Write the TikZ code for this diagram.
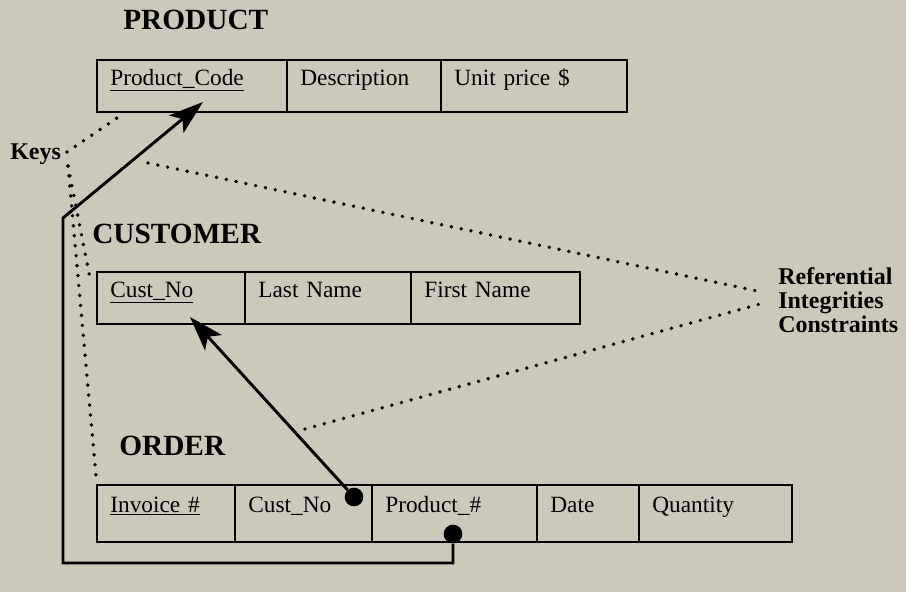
\documentclass[tikz,border=0pt]{standalone}
\usepackage{fontspec}
\setmainfont{Liberation Serif}
\usetikzlibrary{positioning,arrows.meta}
\definecolor{paper}{RGB}{204,201,187}
\tikzset{
    table name/.style={font=\fontsize{22}{26}\selectfont\bfseries, anchor=base west, inner sep=0pt},
    table cell/.style={
            draw, line width=2pt, inner xsep=10pt, inner ysep=0pt, outer sep=0pt,
            text width=#1, align=left,
            text height=18.75pt, text depth=20.25pt,
            font=\fontsize{17.5}{20}\selectfont
        },
    tall row/.style={text height=20.25pt, text depth=22.5pt},
    key dot/.style={circle, fill, inner sep=0pt, minimum size=14pt},
    link/.style={line width=2.2pt, -{Stealth[length=26pt,width=17pt,inset=6pt]}},
    dots/.style={line width=2.9pt, line cap=round, dash pattern=on 0pt off 7.5pt},
    note/.style={font=\fontsize{18}{18}\selectfont\bfseries, inner sep=0pt},
}
\begin{document}
\begin{tikzpicture}[x=0.75pt, y=-0.75pt]
    %paper
    \fill[paper] (0,0) rectangle (906,592);
    \useasboundingbox (0,0) rectangle (906,592);
    %table names
    \node[table name] (product) at (123,30) {PRODUCT};
    \node[table name] (customer) at (92,243) {CUSTOMER};
    \node[table name] (order) at (119,455) {ORDER};
    %product table
    \node[table cell=122.5pt, anchor=north west] (pcode) at (97,60) {\underline{Product\_Code}};
    \node[table cell=95.5pt, right=0pt of pcode] (pdesc) {Description};
    \node[table cell=119.5pt, right=0pt of pdesc] (pprice) {Unit price \$};
    %customer table
    \node[table cell=91pt, anchor=north west] (cno) at (97,272) {\underline{Cust\_No}};
    \node[table cell=104.5pt, right=0pt of cno] (clast) {Last Name};
    \node[table cell=106.75pt, right=0pt of clast] (cfirst) {First Name};
    %order table
    \node[table cell=83.5pt, tall row, anchor=north west] (oinv) at (97,485) {\underline{Invoice \#}};
    \node[table cell=82.75pt, tall row, right=0pt of oinv] (ocust) {Cust\_No};
    \node[table cell=103.75pt, tall row, right=0pt of ocust] (oprod) {Product\_\#};
    \node[table cell=56.5pt, tall row, right=0pt of oprod] (odate) {Date};
    \node[table cell=94.75pt, tall row, right=0pt of odate] (oqty) {Quantity};
    %foreign keys
    \node[key dot] (cdot) at (354,497) {};
    \node[key dot] (pdot) at (453,534) {};
    \coordinate (ctip) at (190,317);
    \coordinate (ptip) at (203,102);
    \coordinate (corner) at (63,218);
    \coordinate (bottom) at (63,563);
    \draw[link] (cdot) -- (ctip);
    \draw[link] (pdot) |- (bottom) -- (corner) -- (ptip);
    %labels
    \node[note, anchor=base west] (keys) at (10,159) {Keys};
    \node[note, anchor=north west, align=left] (ric) at (778,267) {Referential\\Integrities\\Constraints};
    %dotted pointers
    \coordinate (k0) at (67,152);
    \coordinate (kfork) at (68,166);
    \coordinate (kp) at (117,118);
    \coordinate (kc) at (91,283);
    \coordinate (ko) at (96,476);
    \coordinate (r1) at (148,163);
    \coordinate (r2) at (305,429);
    \coordinate (ra) at (762,292);
    \coordinate (rb) at (760,304);
    \draw[dots] (k0) -- (kp);
    \draw[dots] (kfork) -- (kc);
    \draw[dots] (kfork) -- (ko);
    \draw[dots] (r1) -- (ra);
    \draw[dots] (r2) -- (rb);
\end{tikzpicture}
\end{document}
